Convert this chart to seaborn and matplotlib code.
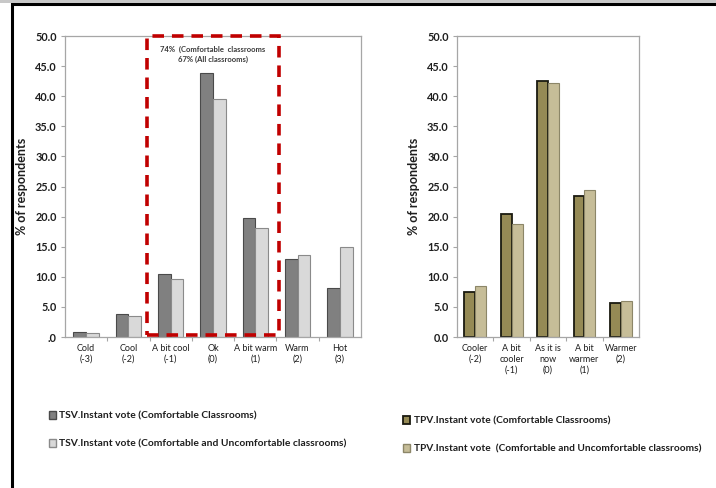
import matplotlib
matplotlib.use("Agg")
import matplotlib.pyplot as plt
from matplotlib.patches import Rectangle, Patch
import pandas as pd
import seaborn as sns

# Thermal sensation vote (TSV)
tsv_categories = ["Cold\n(-3)", "Cool\n(-2)", "A bit cool\n(-1)", "Ok\n(0)",
                  "A bit warm\n(1)", "Warm\n(2)", "Hot\n(3)"]
tsv_comfortable = [0.8, 3.9, 10.5, 43.8, 19.7, 12.9, 8.2]
tsv_all = [0.6, 3.5, 9.7, 39.5, 18.1, 13.6, 14.9]
tsv_series = ["TSV.Instant vote (Comfortable Classrooms)",
              "TSV.Instant vote (Comfortable and Uncomfortable classrooms)"]

# Thermal preference vote (TPV)
tpv_categories = ["Cooler\n(-2)", "A bit\ncooler\n(-1)", "As it is\nnow\n(0)",
                  "A bit\nwarmer\n(1)", "Warmer\n(2)"]
tpv_comfortable = [7.4, 20.5, 42.5, 23.5, 5.6]
tpv_all = [8.4, 18.8, 42.2, 24.4, 6.0]
tpv_series = ["TPV.Instant vote (Comfortable Classrooms)",
              "TPV.Instant vote  (Comfortable and Uncomfortable classrooms)"]

y_ticks = [0, 5, 10, 15, 20, 25, 30, 35, 40, 45, 50]
comfort_note = "74%  (Comfortable  classrooms\n67% (All classrooms)"

sns.set_theme(style="white")
plt.rcParams["font.family"] = ["Lato", "DejaVu Sans"]


def long_frame(categories, s1, s2, names):
    return pd.DataFrame({
        "category": categories * 2,
        "value": s1 + s2,
        "series": [names[0]] * len(categories) + [names[1]] * len(categories),
    })


fig = plt.figure(figsize=(7.16, 4.88), dpi=100)

ax1 = fig.add_axes([0.0908, 0.3094, 0.4134, 0.6168])
ax2 = fig.add_axes([0.6383, 0.3094, 0.2542, 0.6168])

tsv_df = long_frame(tsv_categories, tsv_comfortable, tsv_all, tsv_series)
tpv_df = long_frame(tpv_categories, tpv_comfortable, tpv_all, tpv_series)

tsv_fill = ["#808080", "#d9d9d9"]
tsv_edge = ["#4a4a4a", "#8a8a8a"]
tpv_fill = ["#958a55", "#c6bd98"]
tpv_edge = ["#1a1a10", "#8c8668"]

sns.barplot(data=tsv_df, x="category", y="value", hue="series",
            palette=tsv_fill, width=0.6, ax=ax1, legend=False, saturation=1)
sns.barplot(data=tpv_df, x="category", y="value", hue="series",
            palette=tpv_fill, width=0.6, ax=ax2, legend=False, saturation=1)

text_color = "#1e1e1e"

for ax, edges, lws, n in ((ax1, tsv_edge, [0.8, 0.8], len(tsv_categories)),
                          (ax2, tpv_edge, [1.3, 0.8], len(tpv_categories))):
    for i, cont in enumerate(ax.containers):
        for bar in cont:
            bar.set_edgecolor(edges[i])
            bar.set_linewidth(lws[i])
    ax.set_ylim(0, 50)
    ax.set_xlim(-0.5, n - 0.5)
    ax.set_yticks(y_ticks)
    ax.set_xlabel("")
    ax.set_ylabel("% of respondents", fontsize=9, fontweight="bold",
                  color=text_color, labelpad=5)
    for sp in ax.spines.values():
        sp.set_color("#a6a6a6")
        sp.set_linewidth(0.9)
    ax.tick_params(axis="y", which="major", length=3, width=0.8,
                   color="#a6a6a6", labelsize=7.8, pad=3,
                   labelcolor=text_color, left=True)
    ax.tick_params(axis="x", which="major", length=0, labelsize=6.5, pad=5,
                   labelcolor=text_color)
    ax.set_xticks([i - 0.5 for i in range(1, n)], minor=True)
    ax.tick_params(axis="x", which="minor", length=3, width=0.8,
                   color="#a6a6a6", bottom=True)
    for lab in ax.get_xticklabels():
        lab.set_linespacing(1.25)

ax1.set_yticklabels([".0"] + [f"{v:.1f}" for v in y_ticks[1:]],
                    fontweight="bold")
ax2.set_yticklabels([f"{v:.1f}" for v in y_ticks], fontweight="bold")

# Dashed frame around the comfort zone (-1, 0, +1)
ax1.add_patch(Rectangle((1.44, 0.35), 3.12, 49.6, fill=False,
                        edgecolor="#c00000", linewidth=2.6,
                        linestyle=(0, (3.2, 2.2)), zorder=5, clip_on=False))
ax1.text(3.0, 48.4, comfort_note, ha="center", va="top", fontsize=5.5,
         fontweight="bold", color="#3a3a3a", linespacing=1.45)

# Legends
ax1.legend(handles=[Patch(facecolor=tsv_fill[i], edgecolor=tsv_edge[i])
                    for i in range(2)],
           labels=tsv_series, loc="upper left",
           bbox_to_anchor=(0.062, 0.166), bbox_transform=fig.transFigure,
           frameon=False, labelspacing=1.85, handlelength=0.75,
           handleheight=0.75, handletextpad=0.3, borderaxespad=0,
           labelcolor=text_color, prop={"weight": "bold", "size": 7.4})
ax2.legend(handles=[Patch(facecolor=tpv_fill[0], edgecolor=tpv_edge[0],
                          linewidth=1.3),
                    Patch(facecolor=tpv_fill[1], edgecolor=tpv_edge[1])],
           labels=tpv_series, loc="upper left",
           bbox_to_anchor=(0.557, 0.155), bbox_transform=fig.transFigure,
           frameon=False, labelspacing=1.85, handlelength=0.75,
           handleheight=0.75, handletextpad=0.3, borderaxespad=0,
           labelcolor=text_color, prop={"weight": "bold", "size": 7.3})

# Outer frame
fig.patches.append(Rectangle((12 / 716, -0.05), 1.0, 1 - 4 / 488 + 0.05,
                             transform=fig.transFigure, fill=False,
                             edgecolor="black", linewidth=2.2))
fig.patches.append(Rectangle((0, 1 - 3 / 488), 1.0, 3 / 488,
                             transform=fig.transFigure, facecolor="#c8c8c8",
                             edgecolor="none"))

fig.savefig("out.png", dpi=100)
